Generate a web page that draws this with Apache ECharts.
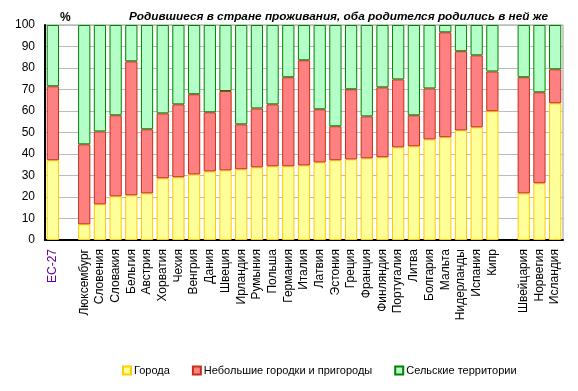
<!DOCTYPE html>
<html>
<head>
<meta charset="utf-8">
<script src="https://cdn.jsdelivr.net/npm/echarts@6/dist/echarts.min.js"></script>
<style>html,body{margin:0;padding:0;background:#fff}#c{width:578px;height:391px}</style>
</head>
<body>
<div id="c"></div>
<script>
var categories = ['EC-27', ' ', 'Люксембург', 'Словения', 'Словакия', 'Бельгия', 'Австрия', 'Хорватия', 'Чехия', 'Венгрия', 'Дания', 'Швеция', 'Ирландия', 'Румыния', 'Польша', 'Германия', 'Италия', 'Латвия', 'Эстония', 'Греция', 'Франция', 'Финляндия', 'Португалия', 'Литва', 'Болгария', 'Мальта', 'Нидерланды', 'Испания', 'Кипр', '  ', 'Швейцария', 'Норвегия', 'Исландия'];
var cities = [37.1, null, 7.3, 16.6, 20.3, 20.8, 21.7, 28.7, 29.2, 30.5, 31.9, 32.4, 32.9, 33.8, 34.3, 34.3, 34.7, 36.1, 37.1, 37.5, 38.0, 38.5, 43.1, 43.6, 46.8, 47.8, 51.0, 52.4, 59.9, null, 21.7, 26.4, 63.6];
var towns = [34.4, null, 37.2, 33.9, 37.7, 62.3, 29.8, 30.2, 33.9, 37.3, 27.5, 36.9, 20.9, 27.4, 28.8, 41.4, 48.9, 24.7, 15.8, 32.6, 19.5, 32.5, 31.6, 14.4, 23.7, 48.8, 36.8, 33.5, 18.5, null, 54.0, 42.3, 15.8];
var rural = [28.5, null, 55.5, 49.5, 42.0, 16.9, 48.5, 41.1, 36.9, 32.2, 40.6, 30.7, 46.2, 38.8, 36.9, 24.3, 16.4, 39.2, 47.1, 29.9, 42.5, 29.0, 25.3, 42.0, 29.5, 3.4, 12.2, 14.1, 21.6, null, 24.3, 31.3, 20.6];
var seriesNames = ['Города', 'Небольшие городки и пригороды', 'Сельские территории'];
var yTicks = [0, 10, 20, 30, 40, 50, 60, 70, 80, 90, 100];
var titleText = 'Родившиеся в стране проживания, оба родителся родились в ней же';

var font = '"Liberation Sans", Arial, sans-serif';
var chart = echarts.init(document.getElementById('c'), null, {renderer: 'canvas'});
var catData = categories.map(function (c) {
  return c === 'EC-27' ? {value: c, textStyle: {color: '#660099'}} : c;
});
function bar(name, data, fill, border) {
  return {
    name: name, type: 'bar', stack: 'all', data: data,
    barCategoryGap: '22%',
    itemStyle: {color: fill, borderColor: border, borderWidth: 1},
    emphasis: {disabled: true}
  };
}
chart.setOption({
  animation: false,
  textStyle: {fontFamily: font},
  title: [
    {text: titleText, right: 25, top: 6,
     textStyle: {fontFamily: font, fontSize: 11.8, fontWeight: 'bold', fontStyle: 'italic', color: '#000'}},
    {text: '%', left: 55, top: 7,
     textStyle: {fontFamily: font, fontSize: 12, fontWeight: 'bold', color: '#000'}}
  ],
  legend: {
    data: seriesNames, left: 117, top: 360, itemWidth: 8, itemHeight: 8, itemGap: 22, icon: 'rect',
    textStyle: {fontFamily: font, fontSize: 11, color: '#000', padding: [0, 0, 0, -2]}
  },
  grid: {left: 45, right: 15, top: 25, bottom: 151, show: true, borderColor: '#999', borderWidth: 1, containLabel: false},
  xAxis: {
    type: 'category', data: catData,
    axisLine: {lineStyle: {color: '#000', width: 2}},
    axisTick: {show: false},
    axisLabel: {rotate: 90, interval: 0, fontSize: 12, color: '#000', margin: 9, fontFamily: font}
  },
  yAxis: {
    type: 'value', min: yTicks[0], max: yTicks[yTicks.length - 1], interval: 10,
    axisLine: {show: true, lineStyle: {color: '#000', width: 2}},
    axisTick: {show: false},
    axisLabel: {fontSize: 12, color: '#000', margin: 10, fontFamily: font},
    splitLine: {lineStyle: {color: '#bbb', width: 1}}
  },
  series: [
    bar(seriesNames[0], cities, '#FFFF99', '#FFCC00'),
    bar(seriesNames[1], towns, '#FF8080', '#C0301A'),
    bar(seriesNames[2], rural, '#B4FFC8', '#008000')
  ]
});
</script>
</body>
</html>
